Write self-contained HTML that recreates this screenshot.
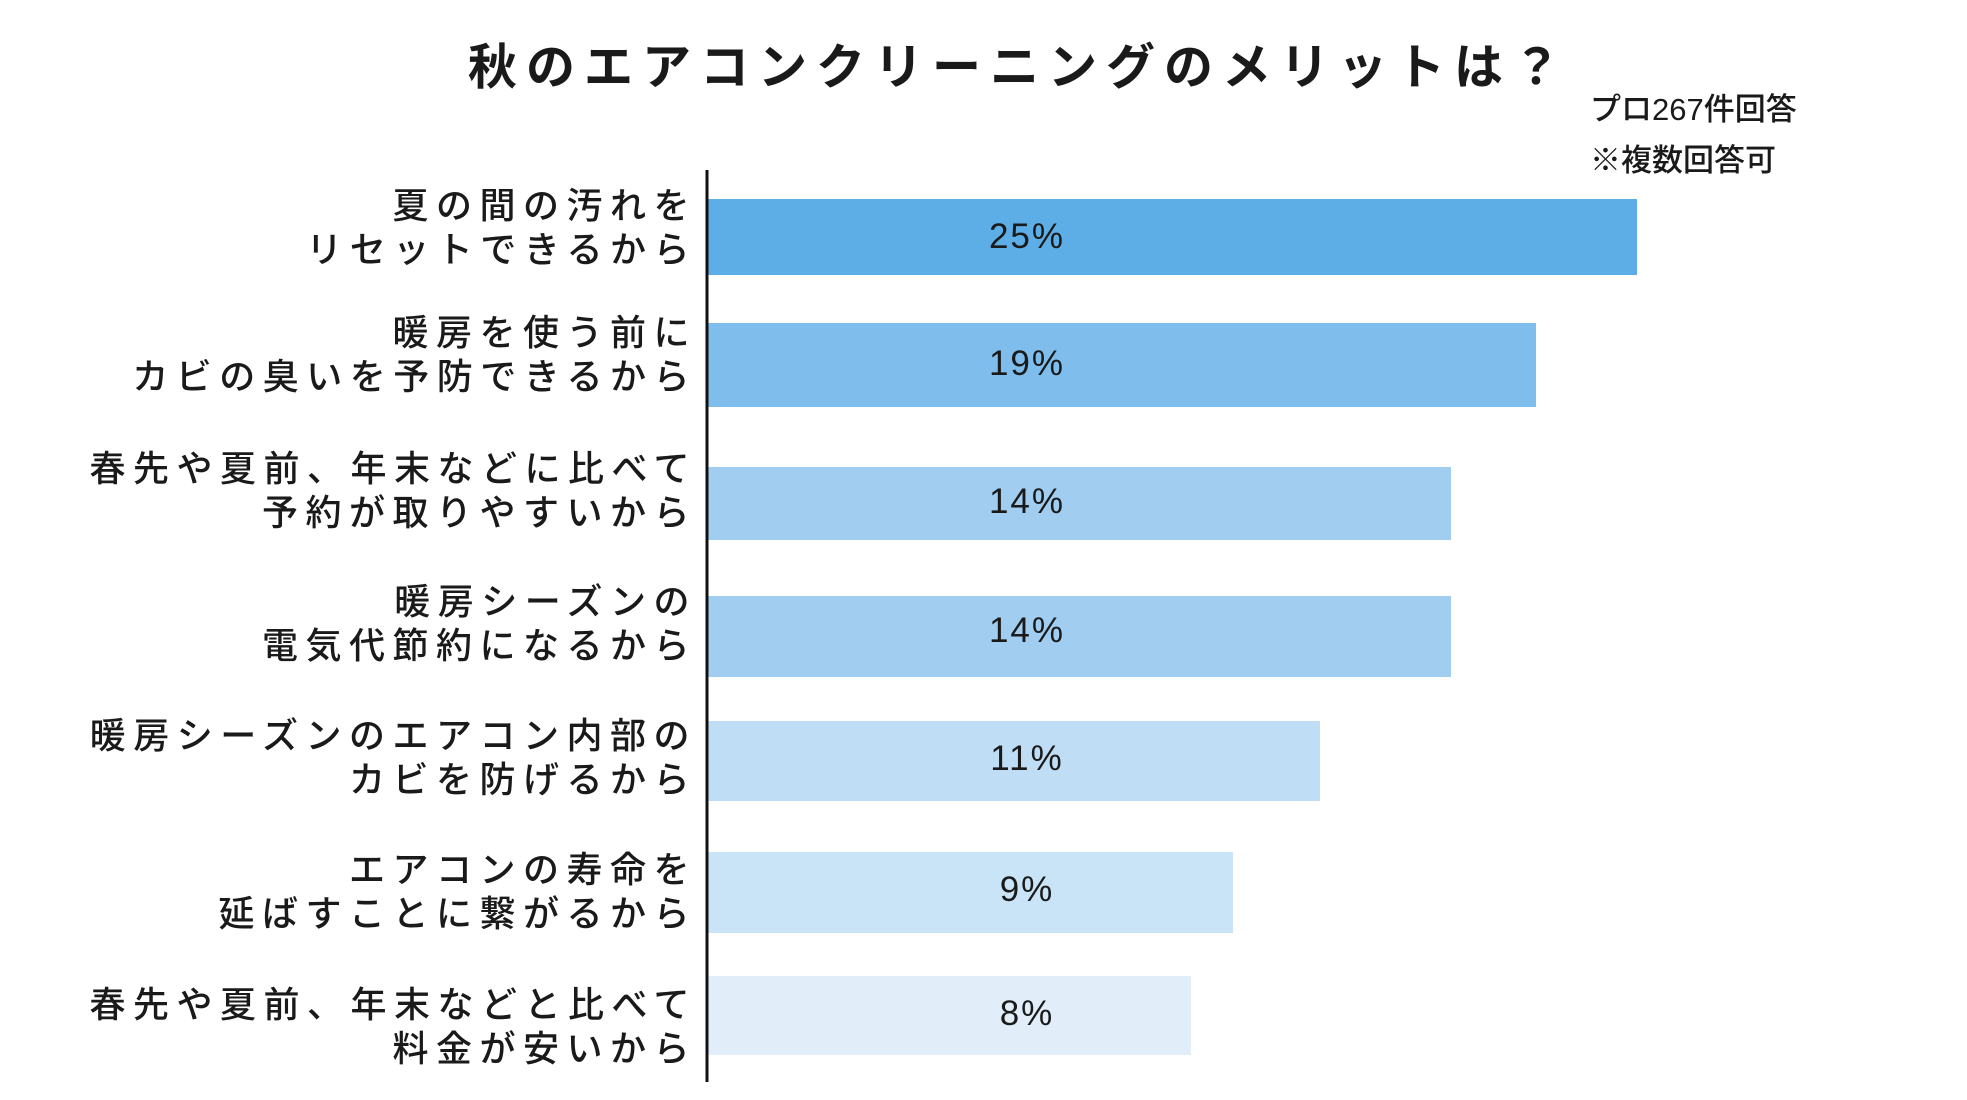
<!DOCTYPE html>
<html><head><meta charset="utf-8"><style>
html,body{margin:0;padding:0;background:#fff;}
svg{display:block;}
text{font-family:"Liberation Sans","Noto Sans CJK JP",sans-serif;fill:#1a1a1a;}
.l{font-size:36px;font-weight:500;letter-spacing:7.5px;text-anchor:end;}
.p{font-size:35px;font-weight:500;text-anchor:middle;letter-spacing:2px;}
</style></head><body>
<svg width="1967" height="1100" viewBox="0 0 1967 1100">
<text x="1019" y="84" style="font-size:49px;font-weight:700;letter-spacing:9px;text-anchor:middle">秋のエアコンクリーニングのメリットは？</text>
<text x="1590" y="120" style="font-size:31px;font-weight:500">プロ267件回答</text>
<text x="1590" y="171" style="font-size:31px;font-weight:500">※複数回答可</text>
<rect x="708" y="199" width="929" height="76" fill="#5dade6"/>
<rect x="708" y="323" width="828" height="84" fill="#7fbdec"/>
<rect x="708" y="467" width="743" height="73" fill="#a0cdf0"/>
<rect x="708" y="596" width="743" height="81" fill="#a0cdf0"/>
<rect x="708" y="721" width="612" height="80" fill="#bfdef5"/>
<rect x="708" y="852" width="525" height="81" fill="#c9e3f7"/>
<rect x="708" y="976" width="483" height="79" fill="#e1eefa"/>
<line x1="707" y1="170" x2="707" y2="1082" stroke="#111" stroke-width="3"/>
<text class="p" x="1027" y="248">25%</text>
<text class="p" x="1027" y="375">19%</text>
<text class="p" x="1027" y="513">14%</text>
<text class="p" x="1027" y="642">14%</text>
<text class="p" x="1027" y="770">11%</text>
<text class="p" x="1027" y="901">9%</text>
<text class="p" x="1027" y="1025">8%</text>
<text class="l" x="697" y="218">夏の間の汚れを</text>
<text class="l" x="697" y="262">リセットできるから</text>
<text class="l" x="697" y="345">暖房を使う前に</text>
<text class="l" x="697" y="389">カビの臭いを予防できるから</text>
<text class="l" x="697" y="481">春先や夏前、年末などに比べて</text>
<text class="l" x="697" y="525">予約が取りやすいから</text>
<text class="l" x="697" y="614">暖房シーズンの</text>
<text class="l" x="697" y="658">電気代節約になるから</text>
<text class="l" x="697" y="748">暖房シーズンのエアコン内部の</text>
<text class="l" x="697" y="792">カビを防げるから</text>
<text class="l" x="697" y="882">エアコンの寿命を</text>
<text class="l" x="697" y="926">延ばすことに繋がるから</text>
<text class="l" x="697" y="1017">春先や夏前、年末などと比べて</text>
<text class="l" x="697" y="1061">料金が安いから</text>
</svg>
</body></html>
